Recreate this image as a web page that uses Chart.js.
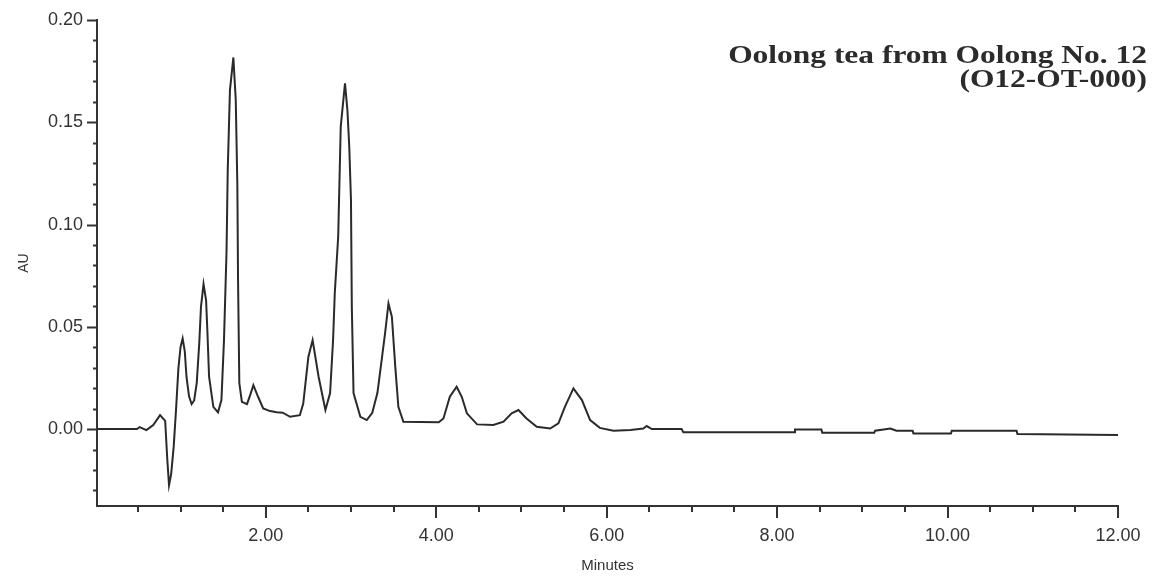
<!DOCTYPE html>
<html>
<head>
<meta charset="utf-8">
<script src="https://cdn.jsdelivr.net/npm/chart.js@4.4.1/dist/chart.umd.min.js"></script>
<style>
  html, body { margin: 0; padding: 0; background: #fff; }
  #wrap { width: 1161px; height: 582px; }
</style>
</head>
<body>
<div id="wrap"><canvas id="chart" width="1161" height="582"></canvas></div>
<script>
// Chromatogram: retention time (min) -> absorbance (AU)
const minutes = [
  0.02, 0.49, 0.52, 0.60, 0.68, 0.76, 0.82, 0.845, 0.865, 0.89,
  0.92, 0.947, 0.975, 1.00, 1.025, 1.05, 1.07, 1.10, 1.13, 1.16,
  1.19, 1.22, 1.24, 1.27, 1.30, 1.315, 1.335, 1.385, 1.44, 1.48,
  1.51, 1.54, 1.554, 1.58, 1.62, 1.648, 1.667, 1.675, 1.69, 1.72,
  1.78, 1.82, 1.855, 1.91, 1.97, 2.05, 2.13, 2.20, 2.285, 2.40,
  2.44, 2.50, 2.55, 2.62, 2.70, 2.755, 2.79, 2.81, 2.85, 2.88,
  2.93, 2.958, 2.98, 3.00, 3.01, 3.03, 3.11, 3.185, 3.25, 3.31,
  3.36, 3.40, 3.44, 3.48, 3.52, 3.556, 3.615, 4.03, 4.085, 4.16,
  4.24, 4.30, 4.36, 4.48, 4.67, 4.79, 4.885, 4.965, 5.06, 5.18,
  5.337, 5.434, 5.51, 5.61, 5.71, 5.806, 5.92, 6.08, 6.28, 6.43,
  6.47, 6.53, 6.88, 6.90, 8.20, 8.21, 8.52, 8.53, 9.14, 9.15,
  9.33, 9.40, 9.59, 9.60, 10.04, 10.05, 10.81, 10.82, 12.00
];
const absorbance = [
  0, 0, 0.001, -0.0005, 0.002, 0.0068, 0.004, -0.015, -0.0274, -0.022,
  -0.0086, 0.0093, 0.0297, 0.040, 0.0443, 0.038, 0.0256, 0.016, 0.0122, 0.014,
  0.0225, 0.042, 0.0598, 0.0709, 0.063, 0.048, 0.0256, 0.0109, 0.0082, 0.0142,
  0.0435, 0.087, 0.1266, 0.1657, 0.1817, 0.161, 0.119, 0.0728, 0.0225, 0.0133,
  0.0122, 0.017, 0.0215, 0.0158, 0.0101, 0.0088, 0.0082, 0.008, 0.006, 0.0068,
  0.0125, 0.0353, 0.0435, 0.0256, 0.0093, 0.0176, 0.0435, 0.0665, 0.094, 0.148,
  0.169, 0.156, 0.138, 0.112, 0.0598, 0.0176, 0.006, 0.0044, 0.008, 0.0176,
  0.0337, 0.0468, 0.0614, 0.0549, 0.0304, 0.0109, 0.0036, 0.0033, 0.0052, 0.0158,
  0.0207, 0.0158, 0.0077, 0.0023, 0.002, 0.0036, 0.0077, 0.0093, 0.0052, 0.0011,
  0.0003, 0.0028, 0.0109, 0.0199, 0.0142, 0.0044, 0.0006, -0.0008, -0.0005, 0.0003,
  0.0015, 0.0, 0.0, -0.0016, -0.0016, -0.0002, -0.0002, -0.0018, -0.0018, -0.0008,
  0.0003, -0.0008, -0.0008, -0.0021, -0.0021, -0.0008, -0.0008, -0.0024, -0.0029
];

// tick positions (labelled ones are every 2 min / every 0.05 AU)
const xTicks = [0.5, 1, 1.5, 2, 2.5, 3, 3.5, 4, 4.5, 5, 5.5, 6, 6.5, 7, 7.5, 8, 8.5, 9, 9.5, 10, 10.5, 11, 11.5, 12];
const xLabelled = [2, 4, 6, 8, 10, 12];
const yTicks = [-0.03, -0.02, -0.01, 0, 0.01, 0.02, 0.03, 0.04, 0.05, 0.06, 0.07, 0.08, 0.09, 0.10,
  0.11, 0.12, 0.13, 0.14, 0.15, 0.16, 0.17, 0.18, 0.19, 0.20];
const yLabelled = [0, 0.05, 0.10, 0.15, 0.20];

const titleLines = ['Oolong tea from Oolong No. 12', '(O12-OT-000)'];

const axisColor = '#333';
const isIn = (list, v) => list.some(l => Math.abs(l - v) < 1e-6);

// major/minor tick marks and the title text
const decorations = {
  id: 'decorations',
  afterDraw(chart) {
    const {ctx, scales: {x, y}} = chart;
    ctx.save();
    ctx.strokeStyle = axisColor;
    ctx.lineWidth = 2;
    ctx.beginPath();
    xTicks.forEach(v => {
      const px = Math.round(x.getPixelForValue(v));
      const len = isIn(xLabelled, v) ? 12 : 6;
      ctx.moveTo(px, y.bottom);
      ctx.lineTo(px, y.bottom + len);
    });
    yTicks.forEach(v => {
      const py = Math.round(y.getPixelForValue(v)) + 0.5;
      const len = isIn(yLabelled, v) ? 10 : 4;
      ctx.moveTo(x.left, py);
      ctx.lineTo(x.left - len, py);
    });
    ctx.stroke();

    ctx.fillStyle = '#2b2b2b';
    ctx.textAlign = 'right';
    ctx.textBaseline = 'alphabetic';
    ctx.font = 'bold 26px "Liberation Serif", "DejaVu Serif", serif';
    ctx.translate(1147, 0);
    ctx.scale(1.21, 1);
    ctx.fillText(titleLines[0], 0, 63);
    ctx.fillText(titleLines[1], 0, 87);
    ctx.restore();
  }
};

new Chart(document.getElementById('chart'), {
  type: 'line',
  data: {
    datasets: [{
      data: minutes.map((t, i) => ({x: t, y: absorbance[i]})),
      borderColor: '#2a2a2a',
      borderWidth: 2,
      pointRadius: 0,
      tension: 0,
      fill: false
    }]
  },
  options: {
    responsive: false,
    animation: false,
    layout: {padding: {top: 20, right: 43, left: 0, bottom: 0}},
    plugins: {legend: {display: false}, tooltip: {enabled: false}},
    scales: {
      x: {
        type: 'linear',
        min: 0.02,
        max: 12,
        afterBuildTicks: scale => { scale.ticks = xTicks.map(v => ({value: v})); },
        afterFit: scale => { scale.height = 76; },
        border: {display: true, color: axisColor, width: 2},
        grid: {display: true, drawOnChartArea: false, drawTicks: true, tickLength: 12, tickColor: 'transparent'},
        ticks: {
          autoSkip: false,
          maxRotation: 0,
          padding: 7,
          color: axisColor,
          font: {family: '"Liberation Sans", Arial, sans-serif', size: 18},
          callback: v => isIn(xLabelled, v) ? v.toFixed(2) : ''
        },
        title: {
          display: true,
          text: 'Minutes',
          color: axisColor,
          font: {family: '"Liberation Sans", Arial, sans-serif', size: 15},
          padding: {top: 0, bottom: 7}
        }
      },
      y: {
        min: -0.0376,
        max: 0.20,
        afterBuildTicks: scale => { scale.ticks = yTicks.map(v => ({value: v})); },
        afterFit: scale => { scale.width = 97; },
        border: {display: true, color: axisColor, width: 2},
        grid: {display: true, drawOnChartArea: false, drawTicks: true, tickLength: 10, tickColor: 'transparent'},
        ticks: {
          autoSkip: false,
          padding: 4,
          color: axisColor,
          font: {family: '"Liberation Sans", Arial, sans-serif', size: 18},
          callback: v => isIn(yLabelled, v) ? Math.abs(v).toFixed(2) : ''
        },
        title: {
          display: true,
          text: 'AU',
          color: axisColor,
          font: {family: '"Liberation Sans", Arial, sans-serif', size: 14},
          padding: {top: 16, bottom: 0}
        }
      }
    }
  },
  plugins: [decorations]
});
</script>
</body>
</html>
